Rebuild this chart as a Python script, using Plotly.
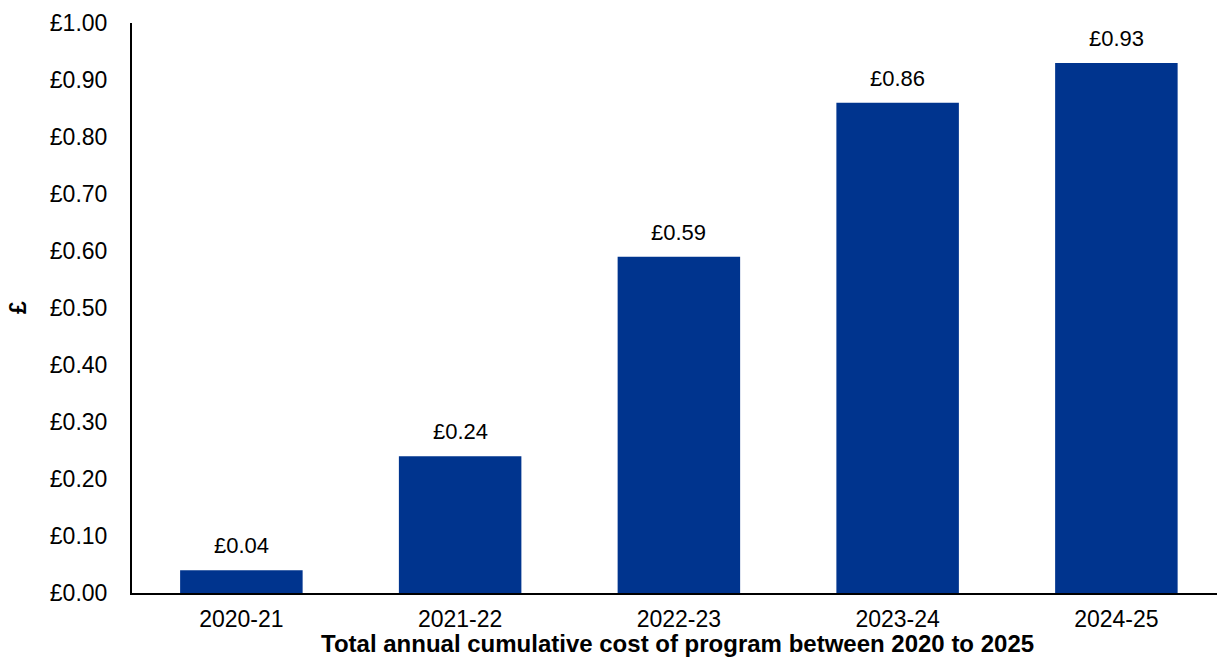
import plotly.graph_objects as go

# Financial years and cumulative programme cost (£)
years = ["2020-21", "2021-22", "2022-23", "2023-24", "2024-25"]
cumulative_cost = [0.04, 0.24, 0.59, 0.86, 0.93]
value_labels = ["£0.04", "£0.24", "£0.59", "£0.86", "£0.93"]

tick_values = [0.0, 0.1, 0.2, 0.3, 0.4, 0.5, 0.6, 0.7, 0.8, 0.9, 1.0]
tick_labels = ["£0.00", "£0.10", "£0.20", "£0.30", "£0.40", "£0.50",
               "£0.60", "£0.70", "£0.80", "£0.90", "£1.00"]

FONT = "Liberation Sans, Arial, sans-serif"
BAR_COLOR = "#00348E"

fig = go.Figure(
    go.Bar(
        x=years,
        y=cumulative_cost,
        marker=dict(color=BAR_COLOR, line=dict(width=0)),
        width=0.56,
        hoverinfo="x+y",
    )
)

# Value labels sitting just above each bar
for yr, val, lab in zip(years, cumulative_cost, value_labels):
    fig.add_annotation(
        x=yr, y=val, text=lab, showarrow=False,
        xref="x", yref="y", yanchor="bottom", yshift=10,
        font=dict(family=FONT, size=22, color="#000000"),
    )

# Axis titles
fig.add_annotation(
    text="<b>£</b>", xref="paper", yref="paper", x=0, y=0.5,
    xanchor="center", yanchor="middle", xshift=-114, textangle=-90,
    showarrow=False, font=dict(family=FONT, size=23, color="#000000"),
)
fig.add_annotation(
    text="<b>Total annual cumulative cost of program between 2020 to 2025</b>",
    xref="paper", yref="paper", x=(677.5 - 132) / 1085, y=0,
    xanchor="center", yanchor="middle", yshift=-50,
    showarrow=False, font=dict(family=FONT, size=24, color="#000000"),
)

fig.update_layout(
    width=1217,
    height=659,
    margin=dict(l=132, r=0, t=23, b=66),
    paper_bgcolor="white",
    plot_bgcolor="white",
    showlegend=False,
    font=dict(family=FONT, size=23, color="#000000"),
    xaxis=dict(
        range=[-0.5, 4.46],
        showgrid=False,
        showline=True,
        linecolor="#000000",
        linewidth=2,
        ticks="",
        ticklabelstandoff=4,
        tickfont=dict(family=FONT, size=23, color="#000000"),
        zeroline=False,
    ),
    yaxis=dict(
        range=[0, 1.0],
        tickvals=tick_values,
        ticktext=tick_labels,
        showgrid=False,
        showline=True,
        linecolor="#000000",
        linewidth=2,
        ticks="",
        ticklabelstandoff=18,
        tickfont=dict(family=FONT, size=23, color="#000000"),
        zeroline=False,
    ),
)

fig.write_html("out.html")
